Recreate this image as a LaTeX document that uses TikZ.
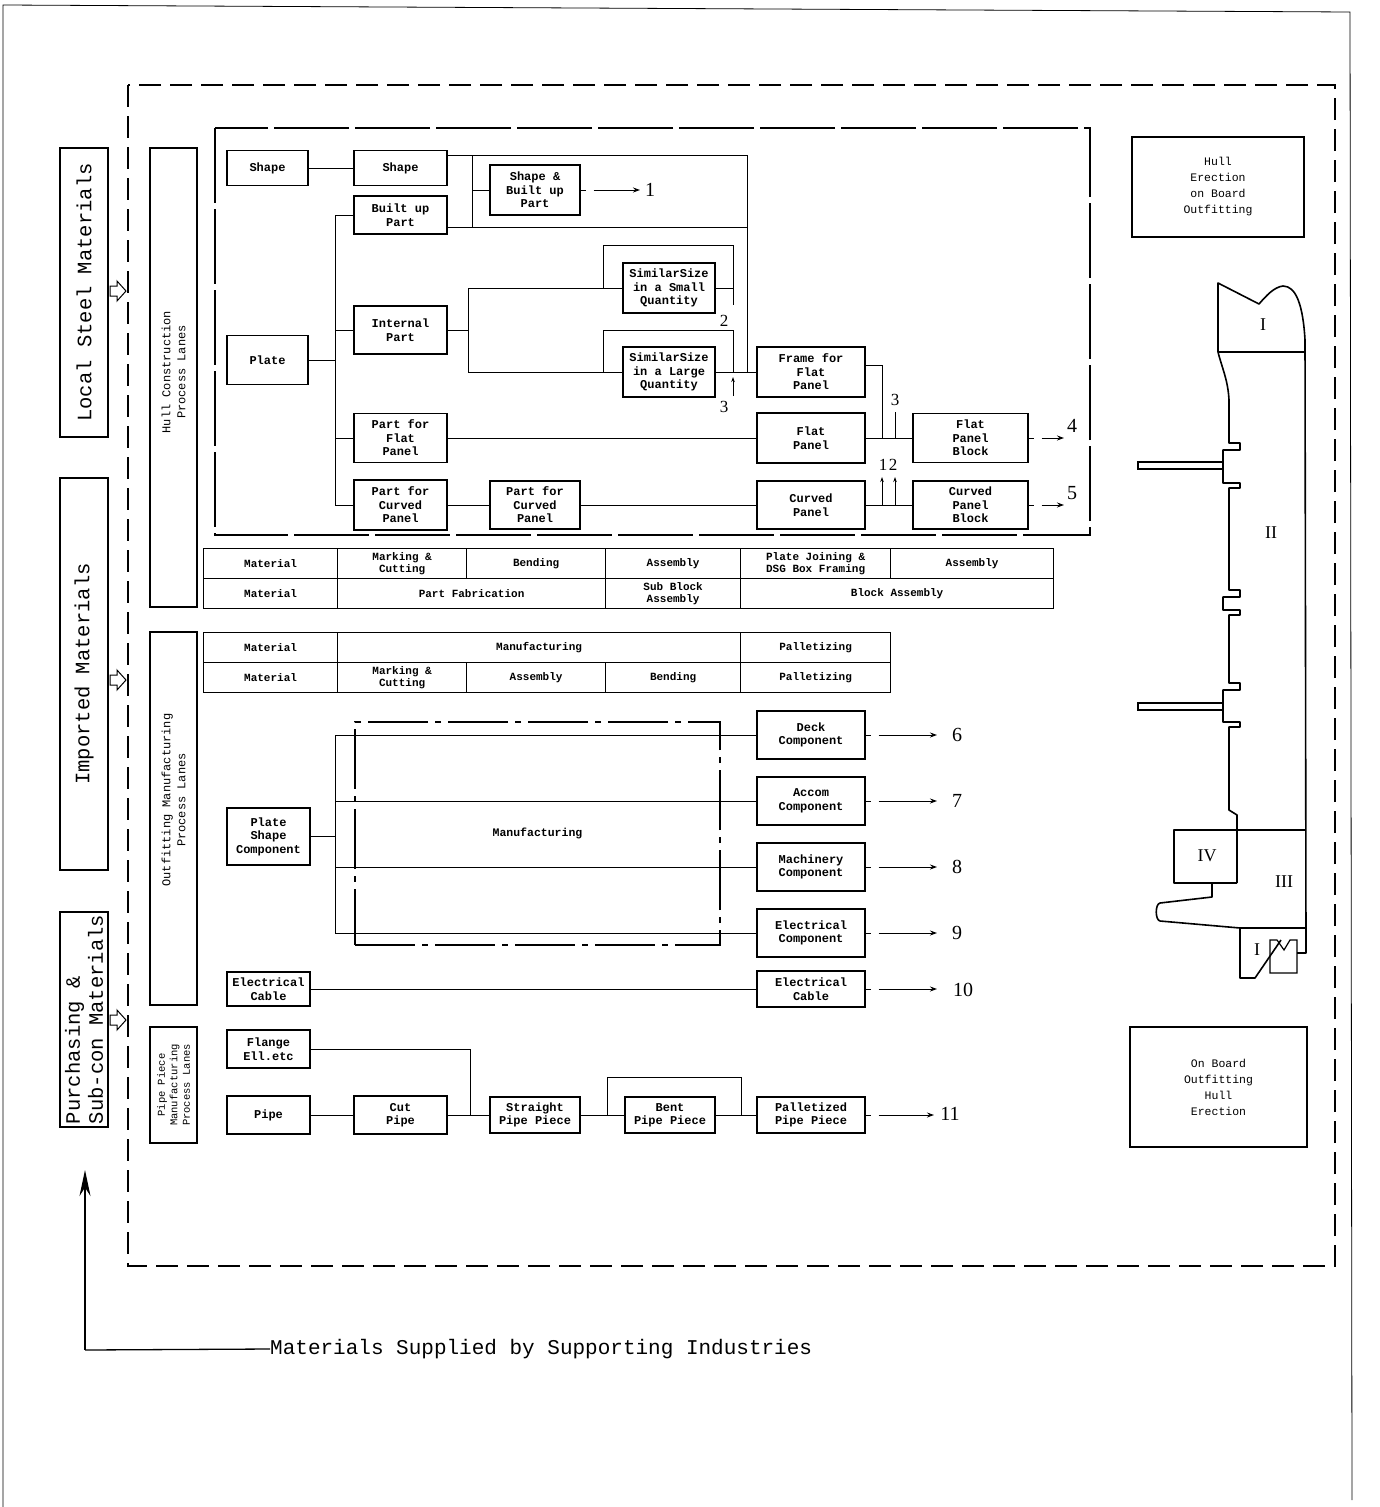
\documentclass[tikz,border=0pt]{standalone}
\usepackage{fontspec}
\setmonofont{Liberation Mono}
\newfontfamily\numfont{Liberation Serif}
\usetikzlibrary{arrows.meta}
\begin{document}
\begin{tikzpicture}[x=1pt,y=-1pt,
  bx/.style={draw, line width=1.4pt, align=center, inner sep=0pt,
    font=\ttfamily\bfseries\fontsize{12}{13.5}\selectfont},
  cell/.style={draw, line width=1.2pt, align=center, inner sep=0pt, anchor=north west,
    minimum height=30pt, font=\ttfamily\bfseries\fontsize{11}{11.5}\selectfont},
  lane/.style={draw, line width=1.4pt, inner sep=0pt, minimum width=47pt},
  lanetext/.style={rotate=90, align=center, inner sep=0pt,
    font=\ttfamily\fontsize{12}{15}\selectfont},
  mat/.style={draw, line width=1.4pt, inner sep=0pt, minimum width=48pt},
  mattext/.style={rotate=90, inner sep=0pt, font=\ttfamily\fontsize{20.5}{23}\selectfont},
  rbox/.style={draw, line width=1.3pt, align=center, inner sep=0pt,
    font=\ttfamily\fontsize{11.5}{16}\selectfont},
  ln/.style={line width=1pt},
  hull/.style={line width=1.6pt, line join=round},
  outarr/.style={line width=1pt, dash pattern=on 5pt off 8pt on 300pt off 1pt,
    -{Stealth[length=7pt,width=5pt]}},
  tick/.style={line width=1pt, -{Stealth[length=5pt,width=3.5pt]}},
  num/.style={inner sep=0pt, font=\numfont\fontsize{20}{20}\selectfont},
  nums/.style={inner sep=0pt, font=\numfont\fontsize{17}{17}\selectfont},
  rom/.style={inner sep=0pt, font=\numfont\fontsize{18}{18}\selectfont},
  hollow/.style={draw, line width=1pt, fill=white}
]
\useasboundingbox (0,0) rectangle (1379,1507);

% page border
\draw[line width=0.8pt] (3,1507) -- (3,5) -- (1350,12) -- (1352,1500);

% outer dashed frame
\draw[line width=1.3pt, dash pattern=on 22pt off 9pt] (128,85) rectangle (1335,1266);

% left material boxes
\node[mat, minimum height=289pt] (lsm) at (84,292.5) {};
\node[mattext] (lsmT) at (lsm.center) {Local Steel Materials};
\node[mat, minimum height=392pt] (imp) at (84,674) {};
\node[mattext] (impT) at (imp.center) {Imported Materials};
\node[mat, minimum height=215pt] (pur) at (84,1019.5) {};
\node[mattext, align=left] (purT) at (pur.center) {Purchasing \&\\Sub-con Materials};

% hollow arrows
\foreach \yy in {291,680,1020}{
  \draw[hollow] (110,\yy-5) -- (117,\yy-5) -- (117,\yy-10) -- (126,\yy) -- (117,\yy+10) -- (117,\yy+5) -- (110,\yy+5) -- cycle;
}

% lane boxes
\node[lane, minimum height=459pt] (hlane) at (173.5,377.5) {};
\node[lanetext] (hlaneT) at (173.5,372) {Hull Construction\\Process Lanes};
\node[lane, minimum height=373pt] (olane) at (173.5,818.5) {};
\node[lanetext] (olaneT) at (173.5,800) {Outfitting Manufacturing\\Process Lanes};
\node[lane, minimum height=116pt] (plane) at (173.5,1085) {};
\node[lanetext, font=\ttfamily\fontsize{10.5}{12.5}\selectfont] (planeT) at (plane.center) {Pipe Piece\\Manufacturing\\Process Lanes};

% hull construction frame
\draw[line width=1.3pt, dash pattern=on 75pt off 6pt] (215,128) rectangle (1090,535);

% hull nodes
\node[bx, minimum width=81pt, minimum height=35pt] (shL) at (267.5,168) {Shape};
\node[bx, minimum width=93pt, minimum height=35pt] (sh) at (400.5,168) {Shape};
\node[bx, minimum width=93pt, minimum height=38pt] (bu) at (400.5,215) {Built up\\Part};
\node[bx, minimum width=90pt, minimum height=50pt] (sbu) at (535,190) {Shape \&\\Built up\\Part};
\node[bx, minimum width=81pt, minimum height=49pt] (plate) at (267.5,360) {Plate};
\node[bx, minimum width=93pt, minimum height=48pt] (ip) at (400.5,330) {Internal\\Part};
\node[bx, minimum width=92pt, minimum height=50pt] (ssq) at (669,288) {SimilarSize\\in a Small\\Quantity};
\node[bx, minimum width=92pt, minimum height=50pt] (slq) at (669,372) {SimilarSize\\in a Large\\Quantity};
\node[bx, minimum width=108pt, minimum height=50pt] (ffp) at (811,372) {Frame for\\Flat\\Panel};
\node[bx, minimum width=108pt, minimum height=50pt] (fp) at (811,438) {Flat\\Panel};
\node[bx, minimum width=108pt, minimum height=48pt] (cp) at (811,505) {Curved\\Panel};
\node[bx, minimum width=115pt, minimum height=49pt] (fpb) at (970.5,438) {Flat\\Panel\\Block};
\node[bx, minimum width=115pt, minimum height=48pt] (cpb) at (970.5,505) {Curved\\Panel\\Block};
\node[bx, minimum width=93pt, minimum height=49pt] (pfp) at (400.5,438) {Part for\\Flat\\Panel};
\node[bx, minimum width=93pt, minimum height=50pt] (pcp) at (400.5,505) {Part for\\Curved\\Panel};
\node[bx, minimum width=90pt, minimum height=48pt] (pcp2) at (535,505) {Part for\\Curved\\Panel};

% hull connectors
\draw[ln] (shL) -- (sh);
\coordinate (jR) at (747,155);
\coordinate (jB) at (747,227);
\draw[ln] (sh.east |- jR) -- (jR) -- (jR |- ffp.west);
\draw[ln] (bu.east |- jB) -- (jB);
\coordinate (kA) at (472,155);
\coordinate (kB) at (472,227);
\draw[ln] (kA) -- (kB);
\draw[ln] (kA |- sbu.west) -- (sbu.west);
\coordinate (o1) at (640,190);
\draw[outarr] (sbu.east) -- (o1);
\node[num, anchor=west] (n1) at (645,190) {1};

\coordinate (pt1) at (335,215);
\coordinate (pt2) at (335,505);
\draw[ln] (pt1) -- (pt2);
\draw[ln] (plate.east) -- (plate.east -| pt1);
\draw[ln] (pt1) -- (bu.west);
\draw[ln] (ip.west -| pt1) -- (ip.west);
\draw[ln] (pfp.west -| pt1) -- (pfp.west);
\draw[ln] (pt2) -- (pcp.west);

\coordinate (it1) at (468,288);
\coordinate (it2) at (468,372);
\draw[ln] (ip.east) -- (ip.east -| it1);
\draw[ln] (it1) -- (it2);
\draw[ln] (it1) -- (ssq.west);
\draw[ln] (it2) -- (slq.west);

\coordinate (b1) at (603,245);
\coordinate (b2) at (733,245);
\coordinate (b3) at (733,305);
\draw[ln] (ssq.west -| b1) -- (b1) -- (b2) -- (b3);
\draw[ln] (ssq.east) -- (ssq.east -| b2);
\node[nums] (n2a) at (724,321) {2};

\coordinate (c1) at (603,330);
\coordinate (c2) at (733,330);
\draw[ln] (slq.west -| c1) -- (c1) -- (c2) -- (c2 |- slq.east);
\draw[ln] (slq.east) -- (ffp.west);
\coordinate (c3) at (733,396);
\coordinate (c4) at (733,377);
\draw[tick] (c3) -- (c4);
\node[nums] (n3a) at (724,407) {3};

\coordinate (f1) at (882,365);
\draw[ln] (ffp.east |- f1) -- (f1) -- (f1 |- fp.east);
\draw[ln] (fp.east) -- (fpb.west);
\coordinate (t3a) at (895,438);
\coordinate (t3b) at (895,412);
\draw[ln] (t3a) -- (t3b);
\node[nums] (n3b) at (895,400) {3};

\draw[ln] (pfp.east) -- (fp.west);
\draw[ln] (pcp.east) -- (pcp2.west);
\draw[ln] (pcp2.east) -- (cp.west);
\draw[ln] (cp.east) -- (cpb.west);
\coordinate (t1a) at (882,505);
\coordinate (t1b) at (882,477);
\coordinate (t2a) at (895,505);
\coordinate (t2b) at (895,477);
\draw[tick] (t1a) -- (t1b);
\draw[tick] (t2a) -- (t2b);
\node[nums] (n1b) at (883,465) {1};
\node[nums] (n2b) at (893,465) {2};

\coordinate (o4) at (1064,438);
\draw[outarr] (fpb.east) -- (o4);
\node[num] (n4) at (1072,426) {4};
\coordinate (o5) at (1064,505);
\draw[outarr] (cpb.east) -- (o5);
\node[num] (n5) at (1072,493) {5};

% hull table
\node[cell, minimum width=134pt] (h11) at (203,548) {Material};
\node[cell, minimum width=129pt] (h12) at (337,548) {Marking \&\\Cutting};
\node[cell, minimum width=139pt] (h13) at (466,548) {Bending};
\node[cell, minimum width=135pt] (h14) at (605,548) {Assembly};
\node[cell, minimum width=150pt] (h15) at (740,548) {Plate Joining \&\\DSG Box Framing};
\node[cell, minimum width=163pt] (h16) at (890,548) {Assembly};
\node[cell, minimum width=134pt] (h21) at (203,578) {Material};
\node[cell, minimum width=268pt] (h22) at (337,578) {Part Fabrication};
\node[cell, minimum width=135pt] (h23) at (605,578) {Sub Block\\Assembly};
\node[cell, minimum width=313pt] (h24) at (740,578) {Block Assembly};

% outfitting table
\node[cell, minimum width=134pt] (o11) at (203,632) {Material};
\node[cell, minimum width=403pt] (o12) at (337,632) {Manufacturing};
\node[cell, minimum width=150pt] (o13) at (740,632) {Palletizing};
\node[cell, minimum width=134pt] (o21) at (203,662) {Material};
\node[cell, minimum width=129pt] (o22) at (337,662) {Marking \&\\Cutting};
\node[cell, minimum width=139pt] (o23) at (466,662) {Assembly};
\node[cell, minimum width=135pt] (o24) at (605,662) {Bending};
\node[cell, minimum width=150pt] (o25) at (740,662) {Palletizing};

% outfitting nodes
\node[bx, minimum width=83pt, minimum height=57pt] (psc) at (268.5,836.5) {Plate\\Shape\\Component};
\node[draw, line width=1.2pt, dash pattern=on 60pt off 7pt on 6pt off 7pt, minimum width=365pt, minimum height=223pt, inner sep=0pt,
  font=\ttfamily\bfseries\fontsize{11.5}{12}\selectfont] (mfg) at (537.5,833.5) {Manufacturing};
\node[bx, minimum width=108pt, minimum height=48pt] (deck) at (811,735) {Deck\\Component};
\node[bx, minimum width=108pt, minimum height=48pt] (accom) at (811,801) {Accom\\Component};
\node[bx, minimum width=108pt, minimum height=48pt] (mach) at (811,867) {Machinery\\Component};
\node[bx, minimum width=108pt, minimum height=48pt] (elec) at (811,933) {Electrical\\Component};
\node[bx, minimum width=108pt, minimum height=36pt] (cableR) at (811,989) {Electrical\\Cable};
\node[bx, minimum width=83pt, minimum height=34pt] (cableL) at (268.5,989) {Electrical\\Cable};

\coordinate (m1) at (335,735);
\coordinate (m2) at (335,933);
\draw[ln] (psc.east) -- (psc.east -| m1);
\draw[ln] (m1) -- (m2);
\draw[ln] (m1) -- (deck.west);
\draw[ln] (accom.west -| m1) -- (accom.west);
\draw[ln] (mach.west -| m1) -- (mach.west);
\draw[ln] (m2) -- (elec.west);
\draw[ln] (cableL) -- (cableR);

\coordinate (o6) at (937,735);
\coordinate (o7) at (937,801);
\coordinate (o8) at (937,867);
\coordinate (o9) at (937,933);
\coordinate (o10) at (937,989);
\draw[outarr] (deck.east) -- (o6);
\draw[outarr] (accom.east) -- (o7);
\draw[outarr] (mach.east) -- (o8);
\draw[outarr] (elec.east) -- (o9);
\draw[outarr] (cableR.east) -- (o10);
\node[num] (n6) at (957,735) {6};
\node[num] (n7) at (957,801) {7};
\node[num] (n8) at (957,867) {8};
\node[num] (n9) at (957,933) {9};
\node[num] (n10) at (963,990) {10};

% pipe nodes
\node[bx, minimum width=83pt, minimum height=38pt] (flange) at (268.5,1049) {Flange\\Ell.etc};
\node[bx, minimum width=83pt, minimum height=38pt] (pipe) at (268.5,1115) {Pipe};
\node[bx, minimum width=93pt, minimum height=38pt] (cut) at (400.5,1115) {Cut\\Pipe};
\node[bx, minimum width=90pt, minimum height=36pt] (straight) at (535,1115) {Straight\\Pipe Piece};
\node[bx, minimum width=90pt, minimum height=36pt] (bent) at (670,1115) {Bent\\Pipe Piece};
\node[bx, minimum width=108pt, minimum height=36pt] (pall) at (811,1115) {Palletized\\Pipe Piece};

\draw[ln] (pipe) -- (cut);
\draw[ln] (cut) -- (straight);
\coordinate (fj) at (470,1049);
\draw[ln] (flange.east) -- (fj) -- (fj |- straight.west);
\draw[ln] (straight) -- (bent);
\coordinate (by1) at (607,1077);
\coordinate (by2) at (741,1077);
\draw[ln] (by1 |- straight.east) -- (by1) -- (by2) -- (by2 |- bent.east);
\draw[ln] (bent) -- (pall);
\coordinate (o11) at (934,1115);
\draw[outarr] (pall.east) -- (o11);
\node[num] (n11) at (950,1114) {11};

% right boxes
\node[rbox, minimum width=172pt, minimum height=100pt] (hebo) at (1218,187) {Hull\\Erection\\on Board\\Outfitting};
\node[rbox, minimum width=177pt, minimum height=120pt] (obhe) at (1218.5,1087) {On Board\\Outfitting\\Hull\\Erection};

% ship outline
\draw[hull] (1218,352) -- (1218,283) -- (1259,304) .. controls (1266,296) and (1274,287) .. (1283,286)
  .. controls (1296,286) and (1303,305) .. (1305,340) -- (1306,953) -- (1297,953);
\draw[hull] (1218,352) -- (1305,352);
\draw[hull] (1218,352) .. controls (1222,368) and (1228,380) .. (1229,400) -- (1229,443) -- (1240,443) -- (1240,450)
  -- (1223,450) -- (1223,483) -- (1240,483) -- (1240,488) -- (1229,488) -- (1229,590) -- (1240,590) -- (1240,597)
  -- (1223,597) -- (1223,610) -- (1240,610) -- (1240,615) -- (1229,615) -- (1229,683) -- (1240,683) -- (1240,690)
  -- (1223,690) -- (1223,722) -- (1240,722) -- (1240,727) -- (1229,727) -- (1229,810) -- (1237,815) -- (1237,883);
\draw[line width=1.2pt] (1223,462) -- (1138,462) -- (1138,469) -- (1223,469);
\draw[line width=1.2pt] (1223,703) -- (1138,703) -- (1138,710) -- (1223,710);
\draw[hull] (1237,830) -- (1306,830);
\draw[hull] (1237,830) -- (1174,830) -- (1174,883) -- (1237,883);
\draw[hull] (1212,883) -- (1212,897) -- (1160,903) .. controls (1155,904) and (1155,920) .. (1160,921) -- (1240,928) -- (1306,928);
\draw[hull] (1240,928) -- (1240,978) -- (1255,978) -- (1281,940);
\draw[line width=1.2pt] (1270,940) -- (1270,973) -- (1297,973) -- (1297,940) -- (1290,940) -- (1284,950) -- (1277,940) -- cycle;
\node[rom] (rI) at (1263,325) {I};
\node[rom] (rII) at (1271,533) {II};
\node[rom] (rIII) at (1284,882) {III};
\node[rom] (rIV) at (1207,856) {IV};
\node[rom] (rI2) at (1257,950) {I};

% bottom supply arrow
\coordinate (sup) at (85,1350);
\coordinate (supT) at (85,1170);
\node[anchor=west, inner sep=0pt, font=\ttfamily\fontsize{21}{21}\selectfont] (supText) at (270,1349) {Materials Supplied by Supporting Industries};
\draw[line width=1.3pt] (supText.west) -- (sup);
\draw[line width=1.3pt, -{Stealth[length=26pt,width=11pt]}] (sup) -- (supT);

\end{tikzpicture}
\end{document}
